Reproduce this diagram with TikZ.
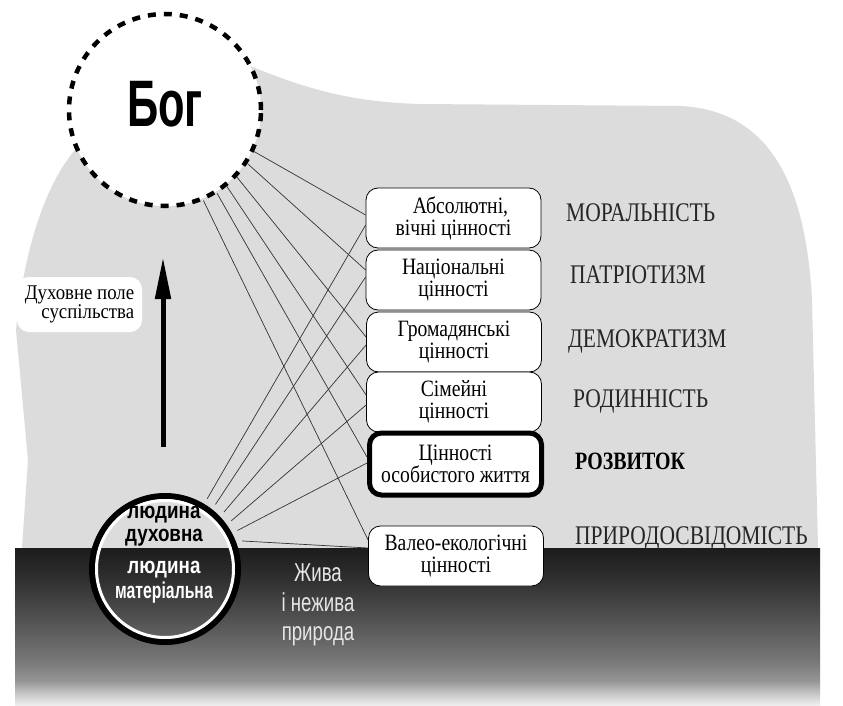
\documentclass[tikz,border=0pt]{standalone}
\usepackage{fontspec}
\usepackage{graphicx}
\setmainfont{Liberation Serif}
\newfontfamily\condserif[FakeStretch=0.84]{Liberation Serif}
\newfontfamily\labserif[FakeStretch=0.8]{Liberation Serif}
\newfontfamily\fieldfont[FakeStretch=0.9]{Liberation Serif}
\newfontfamily\bogfont[FakeStretch=0.66]{Liberation Sans}
\newfontfamily\humfont[FakeStretch=0.82]{Liberation Sans}
\newfontfamily\natfont[FakeStretch=0.72]{Liberation Sans}
\usetikzlibrary{arrows.meta,calc}
\definecolor{bggray}{HTML}{DCDCDC}
\definecolor{g0}{HTML}{F2F2F2}
\definecolor{g1}{HTML}{CCCCCC}
\definecolor{g2}{HTML}{959595}
\definecolor{g3}{HTML}{777777}
\definecolor{g4}{HTML}{535353}
\definecolor{g5}{HTML}{303030}
\definecolor{g6}{HTML}{1C1C1C}
\definecolor{natcol}{HTML}{E6E6E6}
\pgfdeclareverticalshading{groundshade}{100bp}{color(0bp)=(g0); color(25bp)=(g0); color(28.5bp)=(g1); color(33bp)=(g2); color(39.5bp)=(g3); color(52bp)=(g4); color(65bp)=(g5); color(75bp)=(g6); color(100bp)=(g6)}
\tikzset{
  bognode/.style={circle, draw=black, fill=white, dash pattern=on 8bp off 8bp, line width=4.5bp, minimum size=192bp, inner sep=0pt},
  bogtext/.style={inner sep=0pt, font=\bogfont\bfseries\fontsize{66}{66}\selectfont},
  valbox/.style={draw=black, line width=0.8bp, fill=white, rounded corners=12bp, minimum width=175bp, minimum height=60bp, align=center, inner sep=1bp, font=\condserif\fontsize{23.5}{22}\selectfont},
  valboxthick/.style={valbox, line width=5bp, minimum width=172bp, minimum height=62bp},
  lab/.style={anchor=base west, inner sep=0pt, text=black!85, font=\labserif\fontsize{27}{27}\selectfont},
  labbold/.style={lab, text=black, font=\labserif\bfseries\fontsize{25}{25}\selectfont},
  fieldbox/.style={fill=white, rounded corners=12bp, minimum width=125bp, minimum height=55bp, align=right, inner sep=2bp, font=\fieldfont\fontsize{21}{18}\selectfont},
  humnode/.style={circle, draw=black, line width=6bp, minimum size=146bp, inner sep=0pt, outer sep=9bp},
  humtxt/.style={align=center, inner sep=0pt, font=\humfont\bfseries\fontsize{23}{23.5}\selectfont},
  nattxt/.style={align=center, inner sep=0pt, text=natcol, font=\natfont\fontsize{26}{29.5}\selectfont},
  conn/.style={draw=black!80, line width=0.7bp},
  uparrow/.style={-{Triangle[length=42bp,width=15bp]}, line width=5bp, draw=black}
}
\begin{document}
\begin{tikzpicture}[x=1bp,y=-1bp]
\useasboundingbox (0,0) rectangle (843,706);
\fill[white] (0,0) rectangle (843,706);
% light gray field
\fill[bggray] (22,548) -- (28,460) -- (16,330) .. controls (24,250) and (45,185) .. (75,150) -- (160,100) -- (250,66) .. controls (300,86) and (345,102) .. (420,104) -- (680,106) .. controls (770,110) and (806,185) .. (812,300) -- (818,548) -- cycle;
% ground
\shade[shading=groundshade] (15,548) rectangle (820,706);

% God
\node[bognode] (bog) at (165,110) {};
\node[bogtext] (bogtxt) at (165,104) {Бог};

% field label and arrow
\node[fieldbox] (field) at (79.5,304.5) {Духовне поле\\суспільства};
\coordinate (arrbot) at (163,447);
\coordinate (arrtop) at (163,257);
\draw[uparrow] (arrbot) -- (arrtop);

% value boxes
\node[valbox] (b1) at (453.5,218) {\hspace*{14bp}Абсолютні,\\вічні цінності};
\node[valbox] (b2) at (453.5,280) {Національні\\цінності};
\node[valbox] (b3) at (454,342) {Громадянські\\цінності};
\node[valbox] (b4) at (454,402) {Сімейні\\цінності};
\node[valboxthick] (b5) at (455.5,464) {Цінності\\особистого життя};
\node[valbox] (b6) at (456,556) {Валео-екологічні\\цінності};

% human
\node[humnode] (hum) at (165,569) {};
\draw[white, line width=3bp] (hum.center) circle[radius=68.5bp];
\node[humtxt] (humup) at (164,526) {людина\\духовна};
\node[humtxt, text=white, font=\humfont\bfseries\fontsize{23}{25}\selectfont] (humlow) at (164,582) {людина\\\scalebox{0.84}[1]{матеріальна}};

% nature
\node[nattxt] (nature) at (318,605) {Жива\\і нежива\\природа};

% connectors from God
\draw[conn] (bog.-25) -- ($(b1.west)+(0,-3)$);
\draw[conn] (bog.-33) -- ($(b2.west)+(0,-10)$);
\draw[conn] (bog.-43) -- ($(b3.west)+(0,-5)$);
\draw[conn] (bog.-51) -- ($(b4.west)+(0,-7)$);
\draw[conn] (bog.-58) -- ($(b5.west)+(0,-7)$);
\draw[conn] (bog.-67) -- ($(b6.west)+(0,-16)$);
% connectors from human
\draw[conn] (hum.59) -- ($(b1.west)+(0,7)$);
\draw[conn] (hum.52) -- ($(b2.west)+(0,-3)$);
\draw[conn] (hum.44.5) -- ($(b3.west)+(0,3)$);
\draw[conn] (hum.36) -- ($(b4.west)+(0,3)$);
\draw[conn] (hum.28) -- ($(b5.west)+(0,-1)$);
\draw[conn] (hum.20) -- ($(b6.west)+(0,-8)$);

% right labels
\node[lab] (l1) at (566,221) {МОРАЛЬНІСТЬ};
\node[lab] (l2) at (570,283) {ПАТРІОТИЗМ};
\node[lab] (l3) at (568,347) {ДЕМОКРАТИЗМ};
\node[lab] (l4) at (573,407) {РОДИННІСТЬ};
\node[labbold] (l5) at (575,469) {РОЗВИТОК};
\node[lab] (l6) at (575,544) {ПРИРОДОСВІДОМІСТЬ};
\end{tikzpicture}
\end{document}
